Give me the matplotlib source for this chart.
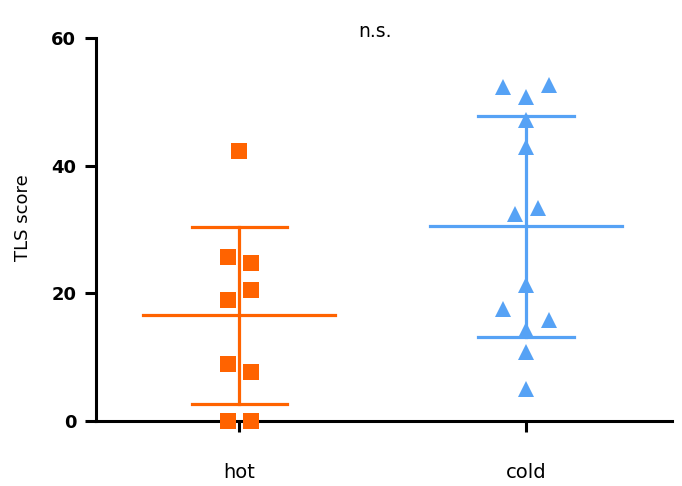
import numpy as np
import matplotlib.pyplot as plt

# TLS score per group
groups = ['hot', 'cold']
hot = [42.3, 25.7, 24.8, 20.5, 19.0, 8.9, 7.6, 0.0, 0.0]
cold = [52.4, 52.6, 50.8, 47.2, 42.9, 32.4, 33.3, 21.3, 17.5, 15.8, 14.3, 10.8, 5.0]
# horizontal slot of each point (scatter jitter)
hot_slot = [0, -1, 1, 1, -1, -1, 1, -1, 1]
cold_slot = [-2, 2, 0, 0, 0, -1, 1, 0, -2, 2, 0, 0, 0]

orange = '#FF6300'
blue = '#56A2F5'

fig = plt.figure(figsize=(6.82, 4.86), dpi=100)
ax = fig.add_axes([95.7/682, 65/486, (672-95.7)/682, (421-38)/486])

step = 0.04
for i, (vals, slots, col, mk) in enumerate([(hot, hot_slot, orange, 's'), (cold, cold_slot, blue, '^')]):
    vals = np.array(vals)
    m = vals.mean()
    sd = vals.std(ddof=1)
    ax.plot([i - 0.335, i + 0.335], [m, m], color=col, lw=2.3, zorder=2)
    ax.plot([i, i], [m - sd, m + sd], color=col, lw=2.3, zorder=2)
    for y in (m - sd, m + sd):
        ax.plot([i - 0.166, i + 0.166], [y, y], color=col, lw=2.3, zorder=2)
    x = i + np.array(slots) * step
    ax.plot(x, vals, linestyle='none', marker=mk, color=col, ms=11.5 if mk == 's' else 12,
            mew=0, zorder=3, clip_on=False)

ax.set_xlim(-0.501, 1.509)
ax.set_ylim(0, 60)
ax.set_xticks([0, 1])
ax.set_xticklabels(groups, fontsize=14, family='DejaVu Sans')
ax.set_yticks([0, 20, 40, 60])
ax.set_yticklabels(['0', '20', '40', '60'], fontsize=13, fontweight='bold', family='DejaVu Sans')
ax.tick_params(axis='y', length=8, width=2.2, pad=6)
ax.tick_params(axis='x', length=8, width=2.2, pad=22)
ax.set_ylabel('TLS score', fontsize=13)
ax.yaxis.set_label_coords(-0.11, 0.53)

for s in ['top', 'right']:
    ax.spines[s].set_visible(False)
for s in ['left', 'bottom']:
    ax.spines[s].set_linewidth(2.2)

ax.text(0.485, 1.018, 'n.s.', transform=ax.transAxes, ha='center', va='center', fontsize=13.5)

fig.savefig('out.png', dpi=100)
